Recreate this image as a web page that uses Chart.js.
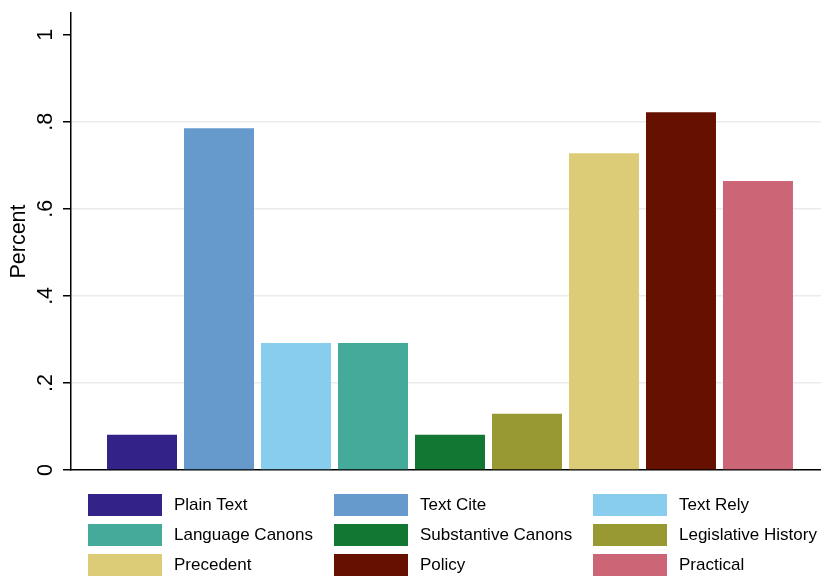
<!DOCTYPE html>
<html lang="en">
<head>
  <meta charset="UTF-8">
  <title>Percent by reasoning type</title>
  <style>
    html, body { margin: 0; padding: 0; overflow: hidden; background: #fff; }
    #wrap { position: relative; width: 821px; height: 577px; overflow: hidden; }
    #chart { position: absolute; left: 0; top: 0; }
    .legend-item {
      position: absolute;
      display: flex;
      align-items: center;
      height: 22px;
      font-family: "Liberation Sans", Arial, sans-serif;
      font-size: 17px;
      line-height: 22px;
      color: #000;
      white-space: nowrap;
    }
    .legend-box { width: 74px; height: 22px; margin-right: 12px; }
  </style>
</head>
<body>
<div id="wrap">
  <canvas id="chart" width="829" height="577"></canvas>
  <div id="legend"></div>
</div>

<script src="https://cdn.jsdelivr.net/npm/chart.js"></script>
<script>
  // data
  const categories = ['Plain Text', 'Text Cite', 'Text Rely', 'Language Canons', 'Substantive Canons',
                      'Legislative History', 'Precedent', 'Policy', 'Practical'];
  const values = [0.081, 0.785, 0.292, 0.292, 0.081, 0.129, 0.728, 0.822, 0.664];
  const colors = ['#332288', '#6699cc', '#88ccee', '#44aa99', '#117733',
                  '#999933', '#ddcc77', '#661100', '#cc6677'];
  const yTicks = [0, 0.2, 0.4, 0.6, 0.8, 1];
  const yTickLabels = ['0', '.2', '.4', '.6', '.8', '1'];

  const FONT = '"Liberation Sans", Arial, sans-serif';

  const datasets = categories.map((name, i) => ({
    label: name,
    data: [values[i]],
    backgroundColor: colors[i],
    borderWidth: 0,
    categoryPercentage: 0.9142,
    barPercentage: 0.909
  }));

  new Chart(document.getElementById('chart').getContext('2d'), {
    type: 'bar',
    data: { labels: [''], datasets: datasets },
    options: {
      responsive: false,
      animation: false,
      layout: { padding: { top: 13, right: 0, bottom: 107, left: 0 } },
      plugins: { legend: { display: false }, tooltip: { enabled: false } },
      scales: {
        x: {
          grid: { display: false },
          ticks: { display: false },
          border: { display: true, color: '#000', width: 1.5 },
          afterFit: s => { s.height = 0; s.paddingLeft = 0; s.paddingRight = 0; }
        },
        y: {
          min: 0,
          max: 1.05,
          afterBuildTicks: s => { s.ticks = yTicks.map(v => ({ value: v })); },
          afterFit: s => { s.width = 71; s.paddingTop = 0; s.paddingBottom = 0; },
          grid: {
            color: c => (c.tick && (c.tick.value === 0 || c.tick.value === 1)) ? 'rgba(0,0,0,0)' : '#ebebeb',
            lineWidth: 1.5,
            tickColor: '#000',
            tickLength: 8
          },
          border: { display: true, color: '#000', width: 1.5 },
          ticks: {
            callback: (v, i) => yTickLabels[i],
            font: { family: FONT, size: 21.5 },
            color: '#000',
            minRotation: 90,
            maxRotation: 90,
            crossAlign: 'center',
            padding: 8
          },
          title: {
            display: true,
            text: 'Percent',
            font: { family: FONT, size: 21.5 },
            color: '#000',
            padding: { top: 6, bottom: 0 }
          }
        }
      }
    }
  });

  // legend: 3 columns like the original
  const colLeft = [88, 334, 593];
  const legend = document.getElementById('legend');
  categories.forEach((name, i) => {
    const item = document.createElement('div');
    item.className = 'legend-item';
    item.style.left = colLeft[i % 3] + 'px';
    item.style.top = (494 + Math.floor(i / 3) * 30) + 'px';
    item.innerHTML = '<span class="legend-box" style="background:' + colors[i] + '"></span>' + name;
    legend.appendChild(item);
  });
</script>
</body>
</html>
